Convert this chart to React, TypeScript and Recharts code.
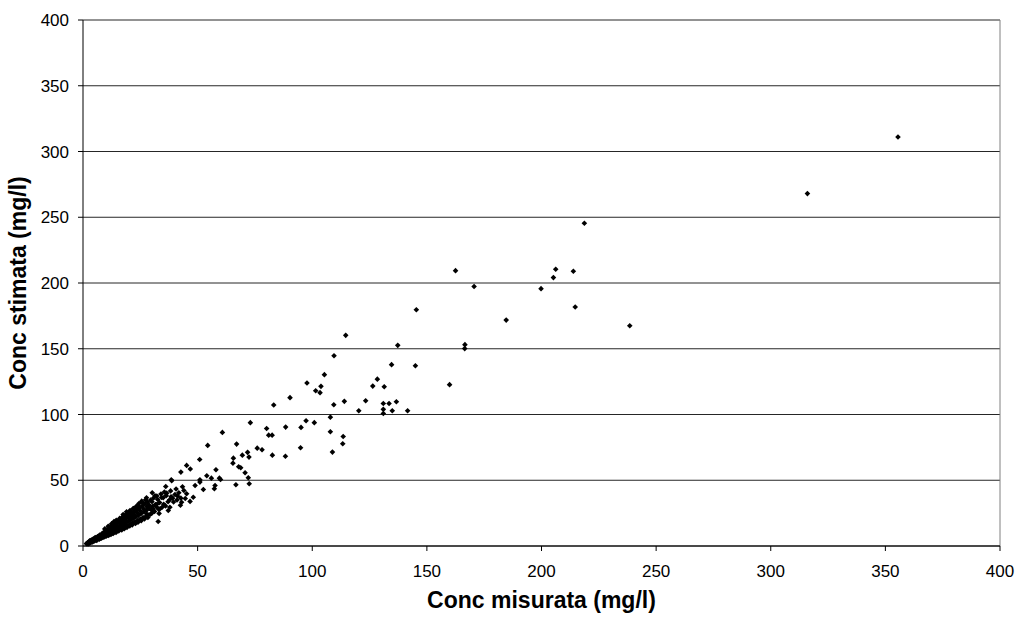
import { CartesianGrid, ReferenceLine, Scatter, ScatterChart, XAxis, YAxis } from "recharts";

const axisTicks = [0, 50, 100, 150, 200, 250, 300, 350, 400];

// dense cluster near the origin (x, y)
const clusterPoints: [number, number][] = [
  [1.5, 1.8], [2, 2.5], [2.2, 1.6], [2.6, 3], [2.8, 2.2], [3, 3.5], [3.2, 2.6], [3.5, 4.2], [3.6, 3], [3.9, 3.6],
  [4.1, 4.8], [4.3, 3.3], [4.6, 4.2], [4.8, 5.4], [5, 3.9], [5.2, 4.8], [5.5, 6], [5.6, 4.4], [5.9, 5.2], [6.1, 6.6],
  [6.3, 4.9], [6.5, 5.8], [6.8, 7.3], [7, 5.5], [7.2, 6.4], [7.5, 8], [7.6, 6], [7.9, 7], [8.2, 8.8], [8.3, 6.5],
  [8.6, 7.6], [8.9, 9.6], [9, 7], [9.3, 8.2], [9.5, 13], [9.6, 10.5], [9.8, 7.6], [10, 9], [10.3, 11.5], [10.5, 8.2],
  [10.8, 9.6], [11, 12.5], [11, 15], [11.3, 8.8], [11.5, 10.4], [11.8, 13.5], [12, 9.4], [12.3, 11], [12.5, 17], [12.6, 14.5],
  [12.8, 10], [13, 12], [13.3, 15.6], [13.5, 10.5], [13.5, 18.5], [13.8, 12.8], [14.1, 16.5], [14.3, 11.2], [14.5, 19.5], [14.6, 13.6],
  [15, 17.6], [15.2, 11.8], [15.5, 14.4], [15.8, 18.6], [16, 12.5], [16, 21], [16.3, 15.3], [16.7, 19.5], [17, 13.4], [17.2, 16.2],
  [17.5, 20.6], [17.5, 24], [17.8, 14], [18.1, 17], [18.5, 21.5], [18.8, 15], [19, 18], [19, 26], [19.4, 22.6], [19.7, 15.6],
  [20, 19], [20.3, 23.5], [20.5, 27], [20.6, 16.5], [21, 20], [21.3, 24.6], [21.6, 17.2], [21.9, 25.7], [22, 21], [22, 28.5],
  [22.4, 26], [22.7, 18.3], [23, 22], [23.5, 27.5], [23.8, 19.3], [24, 31], [24.2, 23.3], [24.6, 29], [25, 20.5], [25.3, 24.5],
  [25.6, 34.1], [25.8, 30.4], [26.2, 21.6], [26.5, 26], [27, 32], [27.4, 22.5], [27.7, 36.7], [27.7, 24.5], [27.8, 27.3], [28.2, 33.5],
  [28.6, 23.6], [29, 28.5], [29.5, 35], [29.9, 27.5], [30, 25], [30.2, 40.5], [30.3, 30], [30.8, 36.5], [31.2, 26.3], [31.6, 31.5],
  [32.1, 31.6], [32.2, 38], [32.8, 18.6], [33, 28], [33.4, 33], [33.6, 28.3], [34, 39.6], [34.5, 29.5], [35, 36.7], [35.5, 41],
  [36, 30.5], [36.1, 45.3], [36.5, 40.2], [37.2, 27], [37.8, 35.2], [37.9, 29.5], [38.4, 37.5], [38.7, 49.6], [39.5, 33.5], [40.1, 39.2],
  [41, 35], [41.8, 40.5], [42.5, 31], [42.7, 36.4], [43, 33.3], [44, 42.2], [45.2, 39.7], [46.7, 33.9], [48.1, 37.1], [48.9, 46],
];

// more points filling the body of the cluster
const clusterFill: [number, number][] = [
  [1.8, 2.1], [2.4, 2.9], [2.9, 3.9], [3.3, 3.1], [3.7, 4.6], [4, 3.1], [4.4, 5.2], [4.9, 4.5], [5.3, 6.4], [5.8, 5.5],
  [6, 4.3], [6.4, 7.1], [6.7, 6.2], [7.1, 5.1], [7.3, 8.4], [7.8, 7.5], [8, 5.9], [8.4, 9.6], [8.8, 8.3], [9.1, 6.6],
  [9.4, 10.8], [9.7, 9.1], [10.1, 7.5], [10.4, 12.3], [10.7, 10.4], [11.2, 8.1], [11.4, 13.7], [11.9, 11.6], [12.2, 8.7], [12.4, 15.8],
  [12.9, 12.9], [13.2, 9.5], [13.6, 16.9], [13.9, 14], [14.4, 10.3], [14.8, 18.2], [15.1, 15.2], [15.6, 11.4], [15.9, 19.9], [16.4, 16.8],
  [16.9, 12.2], [17.1, 21.8], [17.6, 18.2], [18, 13.1], [18.3, 23.4], [18.7, 19.6], [19.2, 14.2], [19.5, 24.8], [19.9, 21.2], [20.4, 15.2],
  [20.8, 26.1], [21.1, 22.4], [21.5, 16.1], [21.9, 28.4], [22.3, 23.8], [22.9, 17.2], [23.2, 30], [23.6, 25.3], [24, 18.1], [24.4, 32.3],
  [24.9, 26.8], [25.4, 19.2], [25.9, 33.3], [26.4, 28.3], [26.8, 20.6], [27.3, 35.2], [27.9, 29.8], [28.3, 21.7], [28.8, 31.2], [29.4, 24.2],
  [30.1, 33.7], [30.6, 28.1], [31.4, 38.2], [32, 29.9], [32.6, 35.4], [33.2, 24.8], [34.3, 36.9], [35.2, 31.8], [36.3, 38.3], [37.1, 33.6],
  [38.2, 41.9], [39.1, 36.4], [40.6, 43.4], [41.3, 37.9], [43.4, 45.1], [44.6, 36.1],
];

// points between 40 and 110 on the x axis
const midPoints: [number, number][] = [
  [38.5, 50.4], [42.7, 56.2], [45.2, 61.3], [46.8, 58.5], [50.9, 65.8], [51, 50.4], [51, 48.6], [52.5, 43], [54, 53.4], [54.4, 76.5],
  [56, 51.6], [57.6, 46], [57.3, 43.5], [58, 58], [59.5, 51.6], [60, 50.6], [60.8, 86.4], [65.4, 63], [65.6, 66.8], [66.7, 46.6],
  [67, 77.5], [67.9, 60.3], [68.8, 59.5], [69.5, 69.1], [70.7, 55.7], [71.8, 71.2], [72.1, 51.9], [72.4, 67.6], [72.5, 47.3], [73, 93.8],
  [76, 74.4], [78.1, 73.2], [80.1, 89.4], [81, 84.3], [82.5, 84.3], [82.6, 69.1], [83.2, 107.2], [88.3, 68.3], [88.4, 90.4], [90.3, 112.8],
  [94.9, 74.7], [95.1, 90.2], [97.3, 95.3], [97.7, 123.9], [100.9, 93.8], [101.5, 118.1], [103.4, 116.6], [103.8, 121.4], [105.3, 130.3], [107.9, 98],
  [107.9, 86.9], [108.8, 71.4], [109.4, 107.4], [109.5, 144.7],
];

// sparse points above x = 110
const upperPoints: [number, number][] = [
  [113.3, 77.8], [113.5, 83.3], [114, 110], [114.6, 160.2], [120.3, 102.9], [123.3, 110.5], [126.4, 121.6], [128.4, 126.9], [131, 108.4], [131, 103.9],
  [131, 100.8], [131.4, 121.1], [133.5, 108.4], [134.6, 137.9], [134.9, 102.9], [136.7, 109.7], [137.3, 152.6], [141.6, 102.9], [145, 137.1], [145.4, 179.7],
  [159.9, 122.7], [162.5, 209.4], [166.5, 150.1], [166.6, 153.1], [170.6, 197.3], [184.6, 171.8], [199.8, 195.7], [205.2, 204.1], [206.2, 210.4], [213.9, 208.9],
  [214.7, 181.7], [218.7, 245.4], [238.5, 167.5], [316, 268], [355.5, 311],
];

const data = [...clusterPoints, ...clusterFill, ...midPoints, ...upperPoints].map(([x, y]) => ({ x, y }));

const font = "'Liberation Sans', Arial, sans-serif";

function Diamond(props: any) {
  const { cx, cy } = props;
  if (cx == null || cy == null) return null;
  const r = 2.8;
  return <path d={`M${cx},${cy - r}L${cx + r},${cy}L${cx},${cy + r}L${cx - r},${cy}Z`} fill="#000" />;
}

export default function App() {
  return (
    <div style={{ position: "absolute", left: 0, top: 0, background: "#fff" }}>
      <ScatterChart width={1017} height={618} margin={{ top: 20, right: 17, bottom: 0, left: 0 }}>
        <CartesianGrid vertical={false} stroke="#000" strokeOpacity={0.85} />
        <XAxis
          type="number"
          dataKey="x"
          domain={[0, 400]}
          ticks={axisTicks}
          height={72}
          stroke="#000"
          tickSize={5}
          tickMargin={14}
          tick={{ fill: "#000", fontSize: 17, fontFamily: font }}
          label={{
            value: "Conc misurata (mg/l)",
            position: "insideBottom",
            offset: 10,
            style: { fill: "#000", fontSize: 23, fontWeight: "bold", fontFamily: font },
          }}
        />
        <YAxis
          type="number"
          dataKey="y"
          domain={[0, 400]}
          ticks={axisTicks}
          width={83}
          stroke="#000"
          tickSize={5}
          tickMargin={9}
          tick={{ fill: "#000", fontSize: 17, fontFamily: font }}
          label={{
            value: "Conc stimata (mg/l)",
            angle: -90,
            position: "insideLeft",
            offset: 18,
            style: { textAnchor: "middle", fill: "#000", fontSize: 23, fontWeight: "bold", fontFamily: font },
          }}
        />
        <ReferenceLine x={400} stroke="#808080" />
        <Scatter data={data} shape={Diamond} isAnimationActive={false} />
      </ScatterChart>
    </div>
  );
}
